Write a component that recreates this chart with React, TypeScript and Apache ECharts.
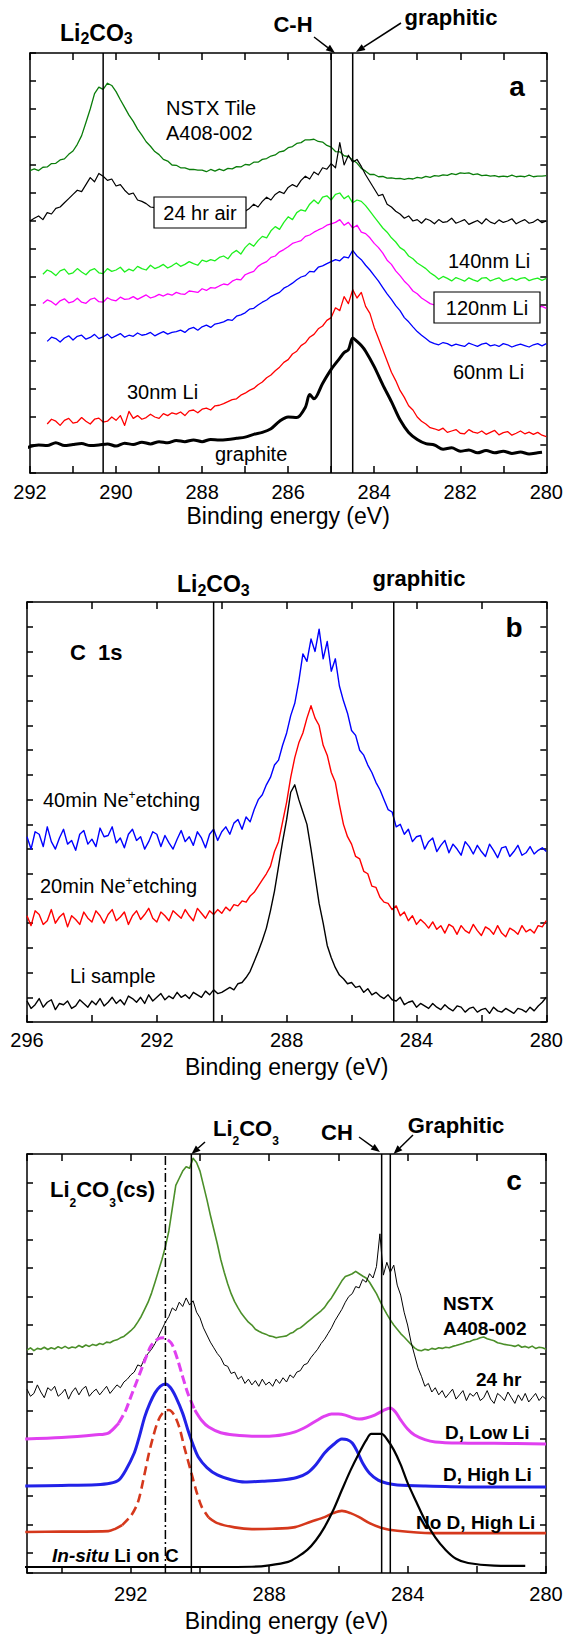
import React, { useEffect, useRef } from 'react';
import * as echarts from 'echarts';

const FONT = '"Liberation Sans", Arial, Helvetica, sans-serif';

// ---------------- Panel a : C 1s, NSTX tile (292 -> 280 eV) ----------------
const A_STEP = 0.1;
const A_NSTX_START = 292.0;
const aNstx = [
  10.80, 10.86, 10.80, 10.92, 10.93, 11.05, 11.06, 11.18, 11.22, 11.38,
  11.50, 11.74, 12.05, 12.52, 13.00, 13.55, 13.78, 13.70, 13.92, 13.84,
  13.62, 13.33, 13.06, 12.78, 12.56, 12.28, 12.07, 11.83, 11.67, 11.48,
  11.37, 11.20, 11.14, 11.00, 10.99, 10.90, 10.90, 10.84, 10.84, 10.82,
  10.82, 10.76, 10.84, 10.78, 10.85, 10.80, 10.88, 10.86, 10.94, 10.93,
  11.02, 11.00, 11.10, 11.10, 11.20, 11.23, 11.32, 11.36, 11.47, 11.50,
  11.62, 11.66, 11.77, 11.80, 11.90, 11.90, 11.92, 11.84, 11.82, 11.70,
  11.64, 11.48, 11.47, 11.33, 11.30, 11.18, 11.07, 10.88, 10.78, 10.66,
  10.66, 10.58, 10.59, 10.53, 10.54, 10.51, 10.52, 10.49, 10.52, 10.50,
  10.56, 10.53, 10.59, 10.56, 10.62, 10.60, 10.65, 10.63, 10.69, 10.66,
  10.72, 10.70, 10.72, 10.66, 10.68, 10.62, 10.64, 10.60, 10.62, 10.58,
  10.60, 10.58, 10.64, 10.58, 10.60, 10.58, 10.64, 10.58, 10.60, 10.60,
  10.62,
];
const A_24H_START = 292.0;
const a24h = [
  9.00, 9.10, 9.18, 9.05, 9.30, 9.25, 9.45, 9.50, 9.65, 9.80,
  9.95, 10.10, 10.05, 10.30, 10.55, 10.40, 10.70, 10.60, 10.45, 10.50,
  10.25, 10.30, 10.10, 9.95, 10.00, 9.75, 9.70, 9.62, 9.50, 9.48,
  9.40, 9.35, 9.30, 9.28, 9.25, 9.25, 9.22, 9.25, 9.22, 9.25,
  9.25, 9.28, 9.25, 9.30, 9.28, 9.32, 9.30, 9.35, 9.32, 9.38,
  9.35, 9.45, 9.60, 9.50, 9.70, 9.85, 9.75, 9.95, 10.05, 9.98,
  10.20, 10.30, 10.22, 10.45, 10.60, 10.50, 10.75, 10.65, 10.90, 10.85,
  11.05, 10.90, 11.80, 11.00, 11.35, 11.10, 11.20, 10.95, 10.65, 10.40,
  10.15, 9.90, 9.95, 9.60, 9.50, 9.35, 9.25, 9.10, 9.18, 9.00,
  9.05, 8.92, 9.08, 9.02, 8.90, 9.05, 8.95, 8.98, 9.10, 8.92,
  8.98, 9.05, 8.88, 8.95, 9.02, 8.90, 9.08, 8.96, 8.90, 9.04,
  8.95, 9.00, 9.08, 8.90, 8.98, 9.05, 8.92, 8.96, 9.06, 8.94,
  9.00,
];
const A_140_START = 291.7;
const a140nm = [
  7.10, 7.25, 7.18, 7.05, 7.22, 7.28, 7.10, 7.15, 7.30, 7.18,
  7.08, 7.24, 7.30, 7.15, 7.12, 7.30, 7.20, 7.25, 7.35, 7.18,
  7.28, 7.22, 7.38, 7.30, 7.25, 7.42, 7.30, 7.36, 7.45, 7.32,
  7.40, 7.50, 7.38, 7.45, 7.55, 7.48, 7.42, 7.60, 7.55, 7.62,
  7.58, 7.70, 7.75, 7.65, 7.85, 7.95, 7.82, 8.05, 8.20, 8.10,
  8.30, 8.45, 8.40, 8.65, 8.80, 8.70, 8.95, 9.15, 9.05, 9.30,
  9.40, 9.35, 9.60, 9.75, 9.62, 9.85, 9.90, 9.75, 9.95, 10.00,
  9.80, 9.90, 9.65, 9.75, 9.70, 9.55, 9.35, 9.15, 8.95, 8.75,
  8.60, 8.40, 8.25, 8.05, 7.95, 7.75, 7.65, 7.50, 7.40, 7.30,
  7.15, 7.05, 6.92, 7.02, 6.95, 6.86, 6.98, 6.92, 6.85, 6.97,
  6.90, 6.84, 6.96, 6.98, 6.86, 6.92, 6.97, 6.85, 6.90, 6.96,
  6.88, 6.95, 6.98, 6.87, 6.92, 6.96, 6.88, 6.95,
];
const A_120_START = 291.7;
const a120nm = [
  6.05, 6.18, 6.12, 6.00, 6.15, 6.22, 6.08, 6.12, 6.24, 6.10,
  6.06, 6.20, 6.25, 6.12, 6.10, 6.26, 6.18, 6.15, 6.28, 6.20,
  6.22, 6.30, 6.20, 6.28, 6.36, 6.25, 6.30, 6.38, 6.32, 6.40,
  6.35, 6.45, 6.40, 6.38, 6.50, 6.48, 6.45, 6.58, 6.52, 6.62,
  6.60, 6.68, 6.75, 6.72, 6.85, 6.92, 6.90, 7.08, 7.15, 7.20,
  7.38, 7.48, 7.55, 7.70, 7.75, 7.90, 7.98, 8.08, 8.20, 8.25,
  8.30, 8.45, 8.50, 8.60, 8.68, 8.75, 8.85, 8.90, 8.95, 9.05,
  8.85, 8.95, 8.75, 8.85, 8.60, 8.55, 8.40, 8.20, 8.05, 7.85,
  7.60, 7.45, 7.22, 7.05, 6.85, 6.70, 6.50, 6.40, 6.25, 6.15,
  6.05, 6.00, 5.98, 5.95, 6.00, 5.94, 5.98, 5.92, 5.96, 5.90,
  5.95, 5.92, 5.96, 5.90, 5.94, 5.92, 5.96, 5.90, 5.94, 5.88,
  5.93, 5.86, 5.95, 5.90, 5.84, 5.92, 5.95, 5.88,
];
const A_60_START = 291.6;
const a60nm = [
  4.70, 4.85, 4.80, 4.68, 4.82, 4.90, 4.75, 4.88, 4.92, 4.78,
  4.84, 4.95, 4.80, 4.86, 4.96, 4.82, 4.90, 4.98, 4.85, 4.92,
  4.88, 5.00, 4.92, 4.95, 5.02, 4.90, 4.98, 5.05, 4.96, 5.02,
  5.05, 5.10, 5.02, 5.15, 5.20, 5.10, 5.22, 5.28, 5.20, 5.32,
  5.35, 5.40, 5.48, 5.45, 5.60, 5.65, 5.72, 5.85, 5.88, 6.00,
  6.10, 6.18, 6.30, 6.38, 6.45, 6.60, 6.68, 6.78, 6.90, 7.00,
  7.05, 7.20, 7.18, 7.35, 7.40, 7.48, 7.55, 7.62, 7.58, 7.72,
  7.68, 7.95, 7.75, 7.62, 7.42, 7.25, 7.05, 6.85, 6.62, 6.40,
  6.20, 5.98, 5.80, 5.55, 5.40, 5.22, 5.05, 4.92, 4.80, 4.68,
  4.62, 4.58, 4.66, 4.62, 4.54, 4.60, 4.56, 4.52, 4.64, 4.58,
  4.52, 4.60, 4.64, 4.54, 4.58, 4.52, 4.62, 4.58, 4.50, 4.56,
  4.60, 4.55, 4.50, 4.58, 4.62, 4.54, 4.62,
];
const A_30_START = 291.6;
const a30nm = [
  1.75, 1.92, 1.85, 1.70, 1.88, 1.95, 1.78, 1.82, 1.98, 1.85,
  1.75, 1.92, 1.96, 1.82, 1.85, 2.00, 1.88, 2.05, 1.70, 2.20,
  1.95, 2.05, 1.92, 1.98, 2.10, 2.00, 1.95, 2.12, 2.05, 2.15,
  2.10, 2.18, 2.05, 2.22, 2.25, 2.15, 2.28, 2.32, 2.25, 2.40,
  2.42, 2.48, 2.55, 2.62, 2.65, 2.78, 2.85, 2.95, 3.02, 3.15,
  3.25, 3.40, 3.50, 3.65, 3.78, 3.95, 4.05, 4.25, 4.35, 4.55,
  4.65, 4.85, 4.95, 5.15, 5.25, 5.45, 5.55, 5.90, 5.80, 6.30,
  6.05, 6.55, 6.25, 6.45, 5.95, 5.70, 5.20, 4.80, 4.40, 4.00,
  3.60, 3.30, 2.95, 2.70, 2.40, 2.25, 2.00, 1.85, 1.75, 1.62,
  1.58, 1.52, 1.60, 1.45, 1.50, 1.55, 1.42, 1.40, 1.55, 1.46,
  1.42, 1.50, 1.38, 1.45, 1.52, 1.36, 1.44, 1.48, 1.35, 1.42,
  1.50, 1.40, 1.46, 1.38, 1.45, 1.35, 1.30,
];
const aGraphite: [number, number][] = [
  [292.1, 0.89], [291.8, 1.0], [291.6, 0.98], [291.4, 1.08], [291.2, 0.98], [291.0, 1.02],
  [290.8, 1.05], [290.6, 0.98], [290.4, 1.0], [290.2, 1.04], [290.0, 0.96], [289.8, 1.06],
  [289.6, 1.02], [289.4, 1.1], [289.2, 1.04], [289.0, 1.12], [288.8, 1.08], [288.6, 1.16],
  [288.4, 1.12], [288.2, 1.18], [288.0, 1.12], [287.8, 1.2], [287.6, 1.18], [287.4, 1.2],
  [287.2, 1.24], [287.0, 1.28], [286.8, 1.38], [286.6, 1.45], [286.4, 1.58], [286.2, 1.85],
  [286.0, 2.0], [285.8, 1.98], [285.6, 2.35], [285.5, 2.8], [285.4, 2.65], [285.2, 3.2],
  [285.0, 3.7], [284.8, 4.1], [284.7, 4.3], [284.6, 4.4], [284.5, 4.82], [284.4, 4.7],
  [284.3, 4.55], [284.2, 4.35], [284.0, 3.8], [283.8, 3.15], [283.6, 2.55], [283.4, 1.9],
  [283.2, 1.45], [283.0, 1.2], [282.8, 1.05], [282.6, 1.0], [282.4, 0.85], [282.2, 0.9],
  [282.0, 0.78], [281.8, 0.82], [281.6, 0.72], [281.4, 0.8], [281.2, 0.72], [281.0, 0.78],
  [280.8, 0.7], [280.6, 0.75], [280.4, 0.68], [280.2, 0.72], [280.1, 0.74],
];
const aRefLines = [290.3, 285.0, 284.5]; // Li2CO3, C-H, graphitic

// ---------------- Panel b : C 1s, Li sample (296 -> 280 eV) ----------------
const B_STEP = 0.125;
const B_START = 296.0;
const b40min = [
  7.5, 7.0, 7.7, 7.6, 7.1, 7.9, 7.3, 7.0, 7.45, 7.8,
  7.2, 7.35, 6.95, 7.6, 7.75, 7.2, 7.4, 7.1, 7.85, 7.5,
  7.55, 7.9, 7.25, 7.45, 7.05, 7.6, 7.8, 7.35, 7.5, 7.0,
  7.3, 7.7, 7.6, 7.1, 7.55, 7.25, 7.0, 7.4, 7.75, 7.3,
  7.5, 7.15, 7.7, 7.45, 7.05, 7.6, 7.8, 7.35, 7.7, 7.9,
  7.6, 8.05, 8.2, 7.8, 8.3, 8.1, 8.6, 9.0, 9.2, 9.6,
  9.9, 10.4, 10.6, 11.2, 11.7, 12.4, 12.9, 13.8, 14.9, 14.6,
  15.5, 15.0, 15.9, 14.7, 15.4, 14.2, 14.7, 13.6, 13.0, 12.5,
  11.8, 11.6, 11.0, 10.8, 10.4, 10.1, 9.7, 9.4, 9.0, 8.6,
  8.5, 7.9, 8.0, 7.6, 7.8, 7.3, 7.5, 7.55, 7.0, 7.3,
  7.45, 6.9, 7.15, 7.35, 6.85, 7.2, 7.0, 6.75, 7.3, 7.1,
  6.8, 7.15, 6.9, 6.7, 7.2, 6.95, 6.65, 7.05, 7.1, 6.7,
  6.9, 7.15, 6.75, 6.85, 7.1, 6.8, 6.95, 7.05, 6.9,
];
const b20min = [
  4.3, 3.9, 4.5, 4.35, 3.95, 4.1, 4.55, 4.0, 4.25, 4.4,
  3.85, 4.3, 4.15, 3.95, 4.45, 4.2, 4.05, 4.5, 4.3, 4.0,
  4.35, 4.55, 4.1, 4.25, 4.45, 3.95, 4.3, 4.5, 4.15, 4.35,
  4.6, 4.2, 4.05, 4.45, 4.3, 4.1, 4.5, 4.35, 4.2, 4.55,
  4.3, 4.1, 4.6, 4.4, 4.2, 4.5, 4.35, 4.55, 4.4, 4.65,
  4.5, 4.75, 4.7, 4.9, 4.85, 5.1, 5.25, 5.5, 5.75, 6.0,
  6.3, 6.9, 7.3, 8.1, 8.9, 9.9, 10.7, 11.3, 11.7, 12.3,
  12.8, 12.3, 12.0, 11.2, 10.8, 10.1, 9.7, 8.8, 8.0, 7.5,
  7.2, 6.7, 6.6, 6.1, 6.0, 5.5, 5.45, 5.05, 4.85, 4.8,
  4.55, 4.7, 4.3, 4.45, 4.1, 4.3, 3.95, 4.15, 4.0, 3.8,
  4.05, 3.75, 3.9, 3.6, 3.95, 3.85, 3.55, 3.9, 3.7, 3.6,
  3.95, 3.7, 3.5, 3.85, 3.75, 3.55, 3.9, 3.6, 3.45, 3.8,
  3.7, 3.55, 3.9, 3.65, 3.75, 3.6, 3.9, 3.85, 4.1,
];
const bLiSample = [
  0.85, 0.55, 0.7, 0.95, 0.6, 0.8, 0.9, 0.5, 0.75, 0.7,
  0.85, 0.55, 0.65, 0.9, 0.75, 0.6, 0.85, 0.7, 0.95, 0.65,
  0.8, 1.0, 0.75, 0.9, 0.7, 1.05, 0.95, 0.8, 1.0, 0.75,
  1.1, 0.85, 1.0, 1.15, 0.9, 1.05, 0.95, 1.2, 1.0, 1.1,
  0.95, 1.2, 1.1, 1.0, 1.25, 1.1, 1.3, 1.15, 1.2, 1.3,
  1.4, 1.3, 1.55, 1.6, 1.8, 2.05, 2.45, 2.85, 3.3, 3.8,
  4.5, 5.3, 6.3, 7.3, 8.2, 9.3, 9.6, 9.0, 8.5, 8.0,
  7.0, 5.9, 4.8, 4.0, 3.1, 2.6, 2.2, 1.9, 1.75, 1.55,
  1.6, 1.4, 1.45, 1.2, 1.35, 1.1, 1.2, 1.05, 0.95, 1.1,
  0.9, 0.85, 1.0, 0.7, 0.8, 0.85, 0.6, 0.75, 0.65, 0.55,
  0.75, 0.6, 0.5, 0.7, 0.55, 0.45, 0.65, 0.6, 0.4, 0.55,
  0.6, 0.4, 0.5, 0.55, 0.35, 0.6, 0.45, 0.4, 0.55, 0.45,
  0.35, 0.55, 0.5, 0.4, 0.6, 0.45, 0.65, 0.8, 1.0,
];
const bRefLines = [290.25, 284.7]; // Li2CO3, graphitic

// ---------------- Panel c : (295 -> 280 eV) ----------------
const C_STEP = 0.1;
const C_START = 295.0;
const cNstx = [
  7.82, 7.90, 7.80, 7.88, 7.85, 7.92, 7.84, 7.90, 7.86, 7.94,
  7.88, 7.95, 7.88, 7.93, 7.90, 7.98, 7.92, 8.00, 7.95, 8.02,
  7.98, 8.05, 8.02, 8.10, 8.08, 8.15, 8.18, 8.25, 8.30, 8.40,
  8.50, 8.62, 8.80, 9.00, 9.25, 9.50, 9.82, 10.20, 10.60, 11.00,
  11.45, 12.00, 12.80, 13.60, 13.85, 14.10, 14.25, 14.20, 14.55, 14.40,
  14.10, 13.60, 13.10, 12.55, 12.05, 11.55, 11.00, 10.55, 10.15, 9.80,
  9.52, 9.30, 9.10, 8.95, 8.80, 8.70, 8.55, 8.48, 8.42, 8.38,
  8.32, 8.30, 8.25, 8.28, 8.30, 8.32, 8.40, 8.45, 8.55, 8.60,
  8.70, 8.80, 8.90, 9.00, 9.10, 9.20, 9.32, 9.50, 9.65, 9.85,
  10.05, 10.25, 10.40, 10.45, 10.50, 10.58, 10.50, 10.42, 10.35, 10.20,
  10.00, 9.80, 9.55, 9.30, 9.08, 8.88, 8.70, 8.55, 8.40, 8.28,
  8.15, 8.02, 7.90, 7.82, 7.80, 7.85, 7.82, 7.88, 7.85, 7.90,
  7.88, 7.92, 7.90, 7.95, 7.98, 8.02, 8.05, 8.10, 8.12, 8.18,
  8.20, 8.25, 8.28, 8.22, 8.18, 8.15, 8.08, 8.05, 8.02, 8.00,
  7.98, 7.95, 8.00, 7.92, 7.95, 7.90, 7.96, 7.88, 7.92, 7.90,
  7.85,
];
const c24hr = [
  6.45, 6.20, 6.30, 6.60, 6.35, 6.15, 6.50, 6.40, 6.55, 6.20,
  6.30, 6.45, 6.10, 6.35, 6.50, 6.25, 6.45, 6.55, 6.20, 6.35,
  6.45, 6.25, 6.40, 6.55, 6.30, 6.45, 6.60, 6.50, 6.70, 6.80,
  6.95, 7.05, 7.30, 7.25, 7.55, 7.70, 7.85, 8.05, 8.30, 8.55,
  8.80, 9.00, 9.30, 9.20, 9.50, 9.35, 9.65, 9.40, 9.55, 9.15,
  8.95, 8.60, 8.35, 8.10, 7.90, 7.70, 7.55, 7.30, 7.25, 7.00,
  7.05, 6.80, 6.90, 6.65, 6.80, 6.60, 6.75, 6.55, 6.80, 6.60,
  6.70, 6.55, 6.80, 6.65, 6.85, 6.70, 6.95, 6.85, 7.05, 7.10,
  7.30, 7.35, 7.55, 7.70, 7.85, 8.05, 8.20, 8.40, 8.60, 8.85,
  9.05, 9.25, 9.50, 9.70, 9.80, 10.05, 10.00, 10.30, 10.20, 10.50,
  10.35, 10.75, 11.90, 10.45, 10.90, 10.55, 10.80, 10.10, 9.75, 9.15,
  8.70, 8.10, 7.65, 7.20, 6.90, 6.55, 6.65, 6.35, 6.50, 6.25,
  6.40, 6.15, 6.30, 6.45, 6.10, 6.25, 6.40, 6.05, 6.30, 6.20,
  6.35, 6.05, 6.15, 6.40, 6.10, 5.95, 6.30, 6.20, 6.05, 6.35,
  6.15, 5.95, 6.25, 6.05, 6.30, 6.00, 6.15, 6.30, 6.05, 6.20,
  6.10,
];
const cLowLi: [number, number][] = [
  [295.05, 4.7], [294.0, 4.75], [293.0, 4.85], [292.65, 4.91], [292.35, 5.26], [292.15, 5.7],
  [292.0, 6.18], [291.85, 6.65], [291.7, 7.12], [291.55, 7.6], [291.4, 8.0], [291.2, 8.22],
  [291.05, 8.25], [290.9, 8.15], [290.8, 8.0], [290.65, 7.5], [290.5, 6.88], [290.35, 6.3],
  [290.15, 5.72], [289.95, 5.35], [289.75, 5.12], [289.4, 4.92], [289.0, 4.84], [288.5, 4.8],
  [288.0, 4.8], [287.6, 4.85], [287.25, 4.95], [286.9, 5.15], [286.6, 5.37], [286.4, 5.5],
  [286.2, 5.58], [286.0, 5.58], [285.8, 5.54], [285.6, 5.45], [285.4, 5.4], [285.2, 5.44],
  [284.95, 5.54], [284.7, 5.7], [284.5, 5.79], [284.35, 5.65], [284.2, 5.37], [284.0, 5.05],
  [283.8, 4.84], [283.5, 4.68], [283.2, 4.6], [282.5, 4.56], [281.5, 4.55], [280.0, 4.53],
];
const cHighLi: [number, number][] = [
  [295.05, 3.05], [294.0, 3.07], [293.0, 3.1], [292.6, 3.15], [292.35, 3.26], [292.15, 3.6],
  [291.9, 4.21], [291.75, 4.8], [291.6, 5.47], [291.45, 5.95], [291.3, 6.32], [291.15, 6.55],
  [291.0, 6.63], [290.85, 6.5], [290.7, 6.18], [290.5, 5.6], [290.35, 5.02], [290.2, 4.5],
  [290.05, 4.07], [289.8, 3.7], [289.5, 3.44], [289.1, 3.27], [288.7, 3.19], [288.2, 3.22],
  [287.65, 3.26], [287.2, 3.35], [286.9, 3.51], [286.65, 3.8], [286.4, 4.21], [286.15, 4.5],
  [285.9, 4.7], [285.75, 4.68], [285.6, 4.56], [285.45, 4.25], [285.3, 3.86], [285.1, 3.5],
  [284.85, 3.26], [284.6, 3.15], [284.3, 3.09], [283.5, 3.05], [282.25, 3.02], [280.0, 3.02],
];
const cNoDHighLi: [number, number][] = [
  [295.05, 1.44], [294.0, 1.45], [292.65, 1.47], [292.45, 1.55], [292.25, 1.68], [292.0, 2.0],
  [291.8, 2.46], [291.65, 3.2], [291.5, 4.07], [291.35, 4.8], [291.2, 5.37], [291.05, 5.65],
  [290.9, 5.72], [290.75, 5.55], [290.6, 5.12], [290.45, 4.4], [290.25, 3.51], [290.1, 2.85],
  [289.95, 2.32], [289.75, 1.95], [289.5, 1.75], [289.0, 1.6], [288.5, 1.54], [287.9, 1.55],
  [287.25, 1.61], [286.8, 1.8], [286.4, 1.96], [286.15, 2.1], [285.9, 2.18], [285.65, 2.1],
  [285.4, 1.96], [285.1, 1.75], [284.75, 1.58], [284.3, 1.48], [283.3, 1.4], [282.0, 1.4],
  [280.0, 1.4],
];
const cInSitu: [number, number][] = [
  [295.25, 0.21], [290.0, 0.21], [288.5, 0.22], [288.0, 0.27], [287.45, 0.39], [287.2, 0.55],
  [286.9, 0.81], [286.65, 1.15], [286.4, 1.61], [286.15, 2.2], [285.9, 2.91], [285.65, 3.6],
  [285.4, 4.21], [285.2, 4.65], [285.05, 4.88], [284.75, 4.88], [284.6, 4.7], [284.4, 4.32],
  [284.2, 3.8], [284.0, 3.16], [283.75, 2.5], [283.5, 1.86], [283.2, 1.25], [282.9, 0.81],
  [282.6, 0.5], [282.25, 0.35], [281.5, 0.26], [280.6, 0.25],
];
const cRefDashDot = 291.0; // Li2CO3 (cs)
const cRefLines = [290.25, 284.75, 284.5]; // Li2CO3, CH, Graphitic

// ----------------------------------------------------------------------------
const seq = (start: number, step: number, vals: number[]) =>
  vals.map((v, i) => [+(start - i * step).toFixed(3), v]);

const splitDash = (data: [number, number][], hi: number, lo: number) => ({
  left: data.filter((p) => p[0] >= hi),
  mid: data.filter((p) => p[0] <= hi && p[0] >= lo),
  right: data.filter((p) => p[0] <= lo),
});

const L = (xi: number, yi: number, data: any[], color: string, width: number, extra: any = {}) => ({
  type: 'line',
  xAxisIndex: xi,
  yAxisIndex: yi,
  data,
  symbol: 'none',
  showSymbol: false,
  silent: true,
  lineStyle: { color, width, type: extra.dash || 'solid', join: 'round' },
  itemStyle: { color },
  smooth: extra.smooth || false,
  clip: extra.clip === undefined ? true : extra.clip,
  z: extra.z || 2,
});

const V = (xi: number, yi: number, x: number, ymax: number, dash: any = 'solid') =>
  L(xi, yi, [[x, 0], [x, ymax]], '#000', 1.5, { dash, z: 3 });

const tickStyle = (len: number) => ({ inside: true, length: len, lineStyle: { color: '#000', width: 1.5 } });
const axisLineStyle = { show: true, onZero: false, lineStyle: { color: '#000', width: 1.5 } };

const xAxesFor = (gridIndex: number, max: number, interval: number, every: number, margin: number, nameGap: number) => {
  const base = {
    type: 'value', gridIndex, min: 280, max, interval, inverse: true,
    splitLine: { show: false }, axisLine: axisLineStyle, axisTick: tickStyle(7),
  };
  return [
    {
      ...base, position: 'bottom',
      axisLabel: {
        show: true, margin, color: '#000', fontSize: 20, fontFamily: FONT,
        formatter: (v: number) => {
          const r = Math.round(v);
          return Math.abs(v - r) < 1e-6 && r % every === 0 ? String(r) : '';
        },
      },
      name: 'Binding energy (eV)', nameLocation: 'middle', nameGap,
      nameTextStyle: { color: '#000', fontSize: 23, fontFamily: FONT },
    },
    { ...base, position: 'top', axisLabel: { show: false } },
  ];
};

const yAxesFor = (gridIndex: number, max: number, inverse: boolean) => {
  const base = {
    type: 'value', gridIndex, min: 0, max, interval: 1, inverse,
    splitLine: { show: false }, axisLine: axisLineStyle, axisTick: tickStyle(6), axisLabel: { show: false },
  };
  return [{ ...base, position: 'left' }, { ...base, position: 'right' }];
};

// ---- graphic helpers (texts, boxes, arrows) ----
const T = (x: number, y: number, text: string, size: number, bold = false, align = 'left', extra: any = {}) => ({
  type: 'text', x, y, z: 100,
  style: {
    text, fontSize: size, fontFamily: FONT, fontWeight: bold ? 'bold' : 'normal', fill: '#000',
    align, verticalAlign: 'middle', ...extra,
  },
});

const li2co3 = (x: number, y: number, main: number, sub: number, lh: number, suffix = '') => ({
  type: 'text', x, y, z: 100,
  style: {
    text: '{m|Li}{s|2}{m|CO}{s|3}' + (suffix ? `{m|${suffix}}` : ''),
    align: 'left', verticalAlign: 'middle',
    rich: {
      m: { fontSize: main, fontWeight: 'bold', fontFamily: FONT, fill: '#000', lineHeight: lh },
      s: { fontSize: sub, fontWeight: 'bold', fontFamily: FONT, fill: '#000', lineHeight: sub, verticalAlign: 'bottom' },
    },
  },
});

const neEtch = (x: number, y: number, pre: string) => ({
  type: 'text', x, y, z: 100,
  style: {
    text: `{m|${pre} Ne}{p|+}{m|etching}`,
    align: 'left', verticalAlign: 'middle',
    rich: {
      m: { fontSize: 20, fontFamily: FONT, fill: '#000', lineHeight: 22 },
      p: { fontSize: 12, fontFamily: FONT, fill: '#000', lineHeight: 8, verticalAlign: 'top' },
    },
  },
});

const box = (x: number, y: number, w: number, h: number) => ({
  type: 'rect', z: 99, shape: { x, y, width: w, height: h },
  style: { fill: '#fff', stroke: '#000', lineWidth: 1.2 },
});

const arrow = (x1: number, y1: number, x2: number, y2: number) => {
  const dx = x2 - x1, dy = y2 - y1, len = Math.hypot(dx, dy);
  const ux = dx / len, uy = dy / len, hl = 9, hw = 3.5;
  const bx = x2 - ux * hl, by = y2 - uy * hl;
  return [
    { type: 'line', z: 100, shape: { x1, y1, x2: bx, y2: by }, style: { stroke: '#000', lineWidth: 1.5 } },
    {
      type: 'polygon', z: 100,
      shape: { points: [[x2, y2], [bx - uy * hw, by + ux * hw], [bx + uy * hw, by - ux * hw]] },
      style: { fill: '#000' },
    },
  ];
};

export default function App() {
  const ref = useRef<HTMLDivElement>(null);

  useEffect(() => {
    if (!ref.current) return;
    const chart = echarts.init(ref.current, undefined, { renderer: 'svg' });

    const A_MAX = 15, B_MAX = 17, C_MAX = 14.7;
    const lowLi = splitDash(cLowLi, 292.35, 290.15);
    const noD = splitDash(cNoDHighLi, 292.25, 289.75);

    const series: any[] = [
      // panel a
      L(0, 0, seq(A_NSTX_START, A_STEP, aNstx), '#0a7d0a', 1.3),
      L(0, 0, seq(A_24H_START, A_STEP, a24h), '#000000', 1.2),
      L(0, 0, seq(A_140_START, A_STEP, a140nm), '#1ef01e', 1.3),
      L(0, 0, seq(A_120_START, A_STEP, a120nm), '#ff00ff', 1.3),
      L(0, 0, seq(A_60_START, A_STEP, a60nm), '#0000ff', 1.3),
      L(0, 0, seq(A_30_START, A_STEP, a30nm), '#ff0000', 1.3),
      L(0, 0, aGraphite, '#000000', 3, { smooth: 0.3, clip: false }),
      ...aRefLines.map((x) => V(0, 0, x, A_MAX)),
      // panel b
      L(2, 2, seq(B_START, B_STEP, b40min), '#0000ff', 1.4),
      L(2, 2, seq(B_START, B_STEP, b20min), '#ff0000', 1.4),
      L(2, 2, seq(B_START, B_STEP, bLiSample), '#000000', 1.4),
      ...bRefLines.map((x) => V(2, 2, x, B_MAX)),
      // panel c
      L(4, 6, seq(C_START, C_STEP, cNstx), '#4b8f29', 1.6),
      L(4, 6, seq(C_START, C_STEP, c24hr), '#000000', 1.0),
      L(4, 6, lowLi.left, '#e040f0', 3, { smooth: 0.3 }),
      L(4, 6, lowLi.mid, '#e040f0', 3, { smooth: 0.3, dash: [9, 4] }),
      L(4, 6, lowLi.right, '#e040f0', 3, { smooth: 0.3 }),
      L(4, 6, cHighLi, '#2222e8', 3, { smooth: 0.3 }),
      L(4, 6, noD.left, '#d5381c', 2.6, { smooth: 0.3 }),
      L(4, 6, noD.mid, '#d5381c', 2.6, { smooth: 0.3, dash: [9, 5] }),
      L(4, 6, noD.right, '#d5381c', 2.6, { smooth: 0.3 }),
      L(4, 6, cInSitu, '#000000', 2.2, { smooth: 0.3, clip: false }),
      V(4, 6, cRefDashDot, C_MAX, [9, 3, 2, 3]),
      ...cRefLines.map((x) => V(4, 6, x, C_MAX)),
    ];

    const graphic: any[] = [
      // panel a
      li2co3(60, 33, 23, 16, 27),
      T(293, 24, 'C-H', 22, true, 'center'),
      ...arrow(314, 37, 335, 53),
      T(451, 17, 'graphitic', 22, true, 'center'),
      ...arrow(401, 23, 356, 52),
      T(517, 86, 'a', 28, true, 'center'),
      T(166, 120, 'NSTX Tile\nA408-002', 20, false, 'left', { lineHeight: 25 }),
      box(154, 197, 92, 31),
      T(200, 212.5, '24 hr air', 20, false, 'center'),
      T(448, 261, '140nm Li', 20),
      box(434, 292, 106, 31),
      T(487, 308, '120nm Li', 20, false, 'center'),
      T(453, 372, '60nm Li', 20),
      T(127, 392, '30nm Li', 20),
      T(215, 454, 'graphite', 20),
      // panel b
      li2co3(177, 584, 23, 16, 28),
      T(419, 578, 'graphitic', 22, true, 'center'),
      T(514, 627, 'b', 28, true, 'center'),
      T(70, 652, 'C  1s', 22, true),
      neEtch(43, 800, '40min'),
      neEtch(40, 886, '20min'),
      T(70, 976, 'Li sample', 20),
      // panel c
      li2co3(213, 1128, 22, 12, 38),
      ...arrow(205, 1142, 191.5, 1154),
      T(337, 1132, 'CH', 22, true, 'center'),
      ...arrow(359, 1137, 380, 1152),
      T(456, 1125, 'Graphitic', 22, true, 'center'),
      ...arrow(413, 1135, 393.5, 1154),
      li2co3(50, 1189, 22, 12, 40, '(cs)'),
      T(514, 1180, 'c', 28, true, 'center'),
      T(443, 1303, 'NSTX', 19, true),
      T(443, 1328, 'A408-002', 19, true),
      T(476, 1379, '24 hr', 19, true),
      T(445, 1432, 'D, Low Li', 19, true),
      T(443, 1474, 'D, High Li', 19, true),
      T(416, 1522, 'No D, High Li', 19, true),
      {
        type: 'text', x: 52, y: 1555, z: 100,
        style: {
          text: '{i|In-situ}{m| Li on C}', align: 'left', verticalAlign: 'middle',
          rich: {
            i: { fontSize: 19, fontWeight: 'bold', fontStyle: 'italic', fontFamily: FONT, fill: '#000' },
            m: { fontSize: 19, fontWeight: 'bold', fontFamily: FONT, fill: '#000' },
          },
        },
      },
    ];

    chart.setOption({
      animation: false,
      backgroundColor: '#ffffff',
      grid: [
        { left: 30, top: 53, width: 522, height: 420 },
        { left: 27, top: 602, width: 522, height: 420 },
        { left: 27, top: 1154, width: 519, height: 419 },
      ],
      xAxis: [
        ...xAxesFor(0, 292, 1, 2, 9, 31),
        ...xAxesFor(1, 296, 2, 4, 8, 33),
        ...xAxesFor(2, 295, 2, 4, 11, 36),
      ],
      yAxis: [
        ...yAxesFor(0, A_MAX, false),
        ...yAxesFor(1, B_MAX, false),
        ...yAxesFor(2, C_MAX, true),
        { type: 'value', gridIndex: 2, min: 0, max: C_MAX, show: false },
      ],
      series,
      graphic,
    });

    return () => chart.dispose();
  }, []);

  return (
    <div
      ref={ref}
      style={{ position: 'absolute', left: 0, top: 0, width: 566, height: 1637, background: '#fff' }}
    />
  );
}
